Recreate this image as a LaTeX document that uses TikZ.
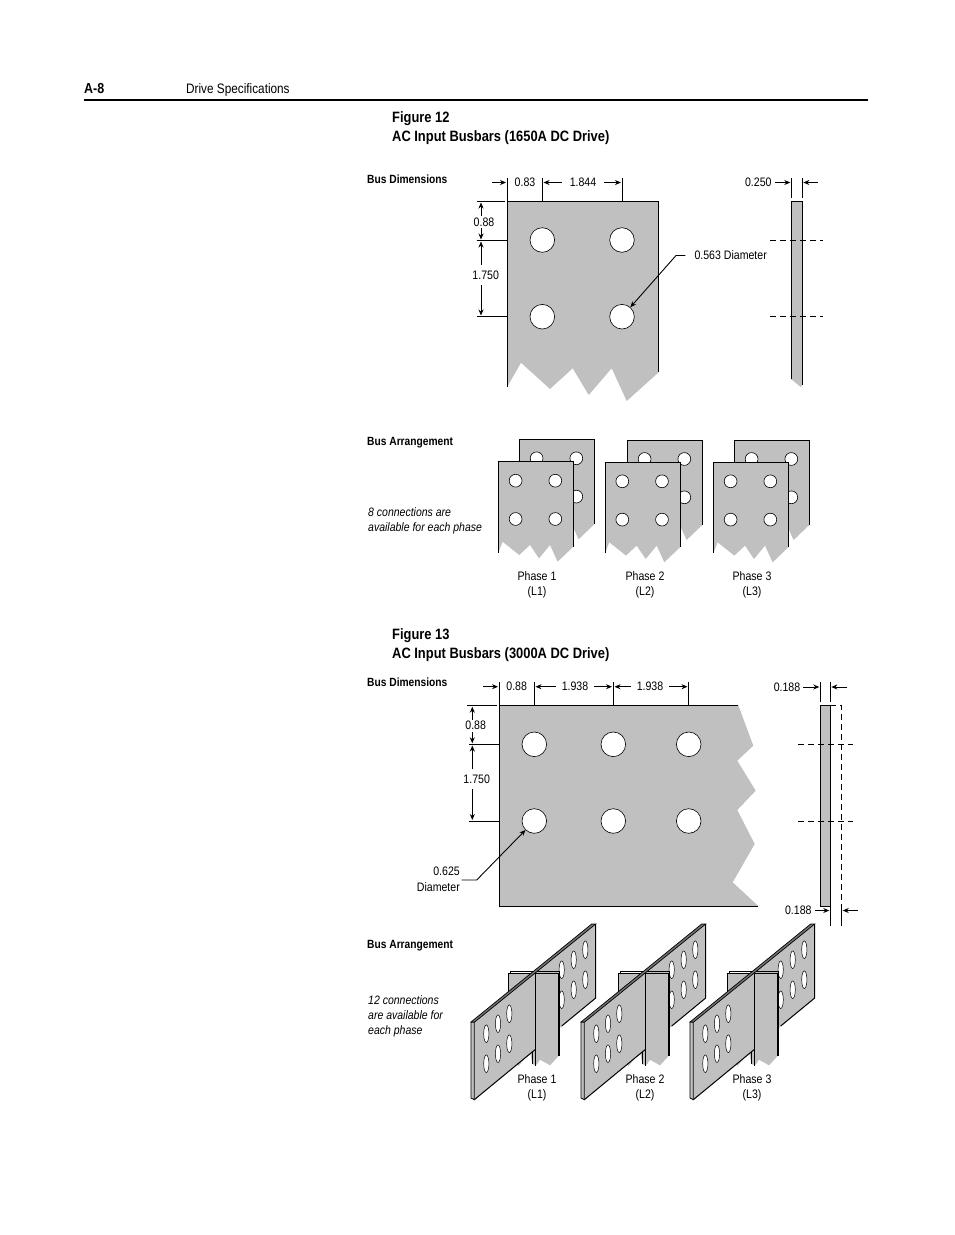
\documentclass[tikz,border=0pt]{standalone}
\usepackage{fontspec}
\setmainfont[FakeStretch=0.86]{Liberation Sans}
\usetikzlibrary{arrows.meta}
\definecolor{busgray}{HTML}{C0C0C0}
\tikzset{
  lbl/.style={inner sep=0pt, font=\fontsize{12.3}{14}\selectfont},
  note/.style={inner sep=0pt, anchor=west, yshift=-1pt, text height=9pt, text depth=3pt, font=\fontsize{12.2}{14}\selectfont\itshape},
  bighead/.style={inner sep=0pt, anchor=west, yshift=-1.7pt, text height=10pt, text depth=3pt, font=\fontsize{15}{17}\selectfont\bfseries},
  subhead/.style={inner sep=0pt, anchor=west, yshift=-1pt, text height=9pt, text depth=3pt, font=\fontsize{11.9}{14}\selectfont\bfseries},
  hole/.style={circle, draw=black, fill=white, line width=0.6pt, inner sep=0pt, minimum size=24.6pt},
  edge/.style={line width=1pt, black},
  ext/.style={line width=0.9pt, black},
  dim/.style={line width=0.9pt, black, -{Stealth[length=6pt,width=5pt]}},
  cut/.style={line width=0.9pt, black, dash pattern=on 6pt off 4pt}
}
\begin{document}
\begin{tikzpicture}[x=1pt,y=-1pt]
  \useasboundingbox (0,0) rectangle (954,1235);

  % page header
  \node[bighead, font=\fontsize{14.5}{16}\selectfont\bfseries] (pagenum) at (84,88) {A-8};
  \node[lbl, anchor=west, yshift=-1.7pt, text height=10pt, text depth=3pt, font=\fontsize{13.7}{15}\selectfont] (pagetitle) at (186,88) {Drive Specifications};
  \draw[line width=1.8pt] (84,100) -- (868,100);

  % figure 12
  \node[bighead] (fig12) at (392,117) {Figure 12};
  \node[bighead] (fig12title) at (392,136) {AC Input Busbars (1650A DC Drive)};
  \node[subhead] (dims12) at (367,179) {Bus Dimensions};

  \fill[busgray] (507.3,201) -- (658.7,201) -- (658.7,372.3) -- (626.7,401) -- (611.7,368.3) -- (588.7,395) -- (572.7,368.3) -- (550,389) -- (521,362.7) -- (507.3,386.7) -- cycle;
  \draw[edge] (507.3,386.7) -- (507.3,201) -- (658.7,201) -- (658.7,372.3);
  \node[hole] (h12a) at (542.3,240) {};
  \node[hole] (h12b) at (622,240) {};
  \node[hole] (h12c) at (542.3,316.7) {};
  \node[hole] (h12d) at (622,316.7) {};

  % top dimensions
  \draw[ext] (507.3,178) -- (507.3,201);
  \draw[ext] (542.3,178) -- (542.3,201);
  \draw[ext] (622,178) -- (622,201);
  \node[lbl] (d083) at (525,182.5) {0.83};
  \node[lbl] (d1844) at (583,182.5) {1.844};
  \draw[dim] (492.3,182.5) -- (506,182.5);
  \draw[dim] (d1844.west) ++(-8,0) -- (543.5,182.5);
  \draw[dim] (d1844.east) ++(8,0) -- (621,182.5);

  % left dimensions
  \draw[ext] (476.7,201) -- (505,201);
  \draw[ext] (476.7,240.3) -- (507.3,240.3);
  \draw[ext] (476.7,316.7) -- (507.3,316.7);
  \node[lbl] (d088) at (484,222) {0.88};
  \node[lbl] (d1750) at (485.7,275.5) {1.750};
  \draw[dim] (481,216) -- (481,202.5);
  \draw[dim] (481,228) -- (481,239.5);
  \draw[dim] (481,265) -- (481,241.5);
  \draw[dim] (481,285) -- (481,315.5);

  \node[lbl, anchor=west] (lead563) at (694.3,255.5) {0.563 Diameter};
  \draw[dim] (lead563.west) ++(-9,0) -- (676,255.5) -- (h12d);

  % side view
  \fill[busgray] (791.3,201) -- (802.3,201) -- (802.3,385) -- (800.7,387) -- (791.3,379.3) -- cycle;
  \draw[edge] (791.3,379.3) -- (791.3,201) -- (802.3,201) -- (802.3,385);
  \draw[ext] (791.3,178) -- (791.3,198);
  \draw[ext] (802.3,178) -- (802.3,198);
  \node[lbl] (d0250) at (758.3,182.5) {0.250};
  \draw[dim] (d0250.east) ++(3,0) -- (790.3,182.5);
  \draw[dim] (817.7,182.5) -- (803.3,182.5);
  \draw[cut] (770,240.3) -- (823.3,240.3);
  \draw[cut] (770,316.7) -- (823.3,316.7);

  % arrangement for figure 12
  \node[subhead] (arr12) at (367,441) {Bus Arrangement};
  \node[note] (conn8a) at (368,512) {8 connections are};
  \node[note] (conn8b) at (368,527) {available for each phase};

  \foreach \px/\py in {519.3/439.3, 498.3/461.7, 627.3/440, 605/462.3, 734.3/440, 713.3/462.3} {
    \begin{scope}[shift={(\px,\py)}]
      \fill[busgray] (0,0) -- (75,0) -- (75,85) -- (59.3,100) -- (51.7,83.3) -- (40.7,96.7) -- (31.7,83.3) -- (21,93.3) -- (4.3,80) -- (0,91) -- cycle;
      \draw[edge] (0,91) -- (0,0) -- (75,0) -- (75,85);
      \foreach \hx/\hy in {17.3/19, 57/19, 17.3/57.3, 57/57.3}
        \draw[fill=white, line width=0.6pt] (\hx,\hy) circle[radius=6.4];
    \end{scope}
  }

  \node[lbl] (ph1a) at (537,576) {Phase 1};
  \node[lbl] (ph1b) at (537,592.7) {(L1)};
  \node[lbl] (ph2a) at (645,576) {Phase 2};
  \node[lbl] (ph2b) at (645,592.7) {(L2)};
  \node[lbl] (ph3a) at (752,576) {Phase 3};
  \node[lbl] (ph3b) at (752,592.7) {(L3)};

  % figure 13
  \node[bighead] (fig13) at (392,634) {Figure 13};
  \node[bighead] (fig13title) at (392,653) {AC Input Busbars (3000A DC Drive)};
  \node[subhead] (dims13) at (367,682) {Bus Dimensions};

  \fill[busgray] (499.3,705.3) -- (738.3,705.3) -- (753.3,745.7) -- (737.3,760.7) -- (755.7,790.7) -- (737.3,810) -- (754.7,844) -- (732.7,882.3) -- (758.3,906) -- (499.3,906) -- cycle;
  \draw[edge] (738.3,705.3) -- (499.3,705.3) -- (499.3,906) -- (758.3,906);
  \node[hole] (h13a) at (534.3,744.3) {};
  \node[hole] (h13b) at (613.3,744.3) {};
  \node[hole] (h13c) at (688.7,744.3) {};
  \node[hole] (h13d) at (534.3,821) {};
  \node[hole] (h13e) at (613.3,821) {};
  \node[hole] (h13f) at (688.7,821) {};

  % top dimensions
  \draw[ext] (499.3,682) -- (499.3,705.3);
  \draw[ext] (534.3,682) -- (534.3,705.3);
  \draw[ext] (613.3,682) -- (613.3,705.3);
  \draw[ext] (688.7,682) -- (688.7,705.3);
  \node[lbl] (t088) at (516.7,686) {0.88};
  \node[lbl] (t1938a) at (575,686) {1.938};
  \node[lbl] (t1938b) at (650,686) {1.938};
  \draw[dim] (483.3,686.7) -- (498,686.7);
  \draw[dim] (t1938a.west) ++(-6,0.7) -- (535.5,686.7);
  \draw[dim] (t1938a.east) ++(6,0.7) -- (612,686.7);
  \draw[dim] (t1938b.west) ++(-6,0.7) -- (614.5,686.7);
  \draw[dim] (t1938b.east) ++(6,0.7) -- (687.5,686.7);

  % left dimensions
  \draw[ext] (467.3,705.3) -- (497,705.3);
  \draw[ext] (469.3,744.3) -- (499.3,744.3);
  \draw[ext] (469.3,821) -- (499.3,821);
  \node[lbl] (s088) at (475.7,725.7) {0.88};
  \node[lbl] (s1750) at (476.7,779) {1.750};
  \draw[dim] (472.3,720) -- (472.3,706.7);
  \draw[dim] (472.3,732) -- (472.3,743.3);
  \draw[dim] (472.3,769) -- (472.3,745.5);
  \draw[dim] (472.3,789) -- (472.3,820);

  \node[lbl, anchor=east] (lead625a) at (460,871.7) {0.625};
  \node[lbl, anchor=east] (lead625b) at (460,887) {Diameter};
  \draw[dim] (461.7,880) -- (476.7,880) -- (h13d);

  % side view
  \fill[busgray] (820.3,705.3) rectangle (830.3,906);
  \draw[edge] (820.3,906) -- (820.3,705.3) -- (830.3,705.3) -- (830.3,906) -- cycle;
  \draw[cut] (830.3,705.3) -- (841.7,705.3) -- (841.7,906);
  \draw[cut] (798.3,744.3) -- (853.3,744.3);
  \draw[cut] (798.3,821) -- (853.3,821);
  \draw[ext] (820.3,682) -- (820.3,702);
  \draw[ext] (830.3,682) -- (830.3,702);
  \node[lbl] (d0188a) at (787,687) {0.188};
  \draw[dim] (d0188a.east) ++(3,0) -- (819.3,687);
  \draw[dim] (846.7,687) -- (831.3,687);
  \draw[ext] (830.3,906) -- (830.3,926);
  \draw[ext] (841.7,906) -- (841.7,926);
  \node[lbl] (d0188b) at (798.3,910.5) {0.188};
  \draw[dim] (d0188b.east) ++(3,0) -- (829.3,910.5);
  \draw[dim] (858,910.5) -- (842.7,910.5);

  % arrangement for figure 13
  \node[subhead] (arr13) at (367,944) {Bus Arrangement};
  \node[note] (conn12a) at (368,1000) {12 connections};
  \node[note] (conn12b) at (368,1015) {are available for};
  \node[note] (conn12c) at (368,1030) {each phase};

  \foreach \dx in {0,110,219} {
    \begin{scope}[shift={(\dx,0)}]
      % plate running to the back
      \fill[busgray] (535,973) -- (595.7,924) -- (595.7,998) -- (555,1032) -- cycle;
      \draw[edge] (595.7,924) -- (595.7,998) -- (561.7,1026);
      \foreach \hx/\hy in {561.7/969.7, 573.7/959.7, 585.3/949.7, 561.7/999.7, 573.7/989.7, 585.3/979.7}
        \draw[fill=white, line width=0.5pt] (\hx,\hy) ellipse[x radius=2.6, y radius=8.8];
      % plate standing across
      \fill[busgray] (508.3,973) -- (558.3,973) -- (558.3,1056.3) -- (550,1065.3) -- (540,1059.7) -- (536.7,1064.7) -- (532.7,1064.7) -- (530,1052) -- (518.3,1066.3) -- (508.3,1040) -- cycle;
      \draw[line width=0.7pt] (510.3,973) -- (510.3,971) -- (559.6,971) -- (559.6,1056.3);
      \draw[line width=0.8pt] (508.3,1020) -- (508.3,973) -- (558,973) -- (558,1056.3);
      \draw[line width=0.9pt] (532.7,1050) -- (532.7,1064);
      \draw[line width=0.9pt] (535,1045) -- (535,1066);
      % front plate
      \fill[busgray] (474.3,1022.3) -- (535,972.3) -- (535,1049.7) -- (474.3,1099.7) -- cycle;
      \draw[edge] (535,1049.7) -- (474.3,1099.7);
      \draw[edge] (535,972.3) -- (535,1049.7);
      \foreach \hx/\hy in {486.3/1033.7, 498/1023.7, 509.3/1013.7, 486.3/1063.7, 498/1053.7, 509.3/1043.7}
        \draw[fill=white, line width=0.5pt] (\hx,\hy) ellipse[x radius=2.6, y radius=8.8];
      % edge of the long plate
      \filldraw[fill=busgray!60!black, line width=0.7pt] (471,1022) -- (591.7,924) -- (595.7,924) -- (474.3,1022.3) -- cycle;
      \filldraw[fill=busgray, line width=0.8pt] (471,1022) -- (474.3,1022.3) -- (474.3,1099.7) -- (471,1098) -- cycle;
    \end{scope}
  }

  \node[lbl] (ph1c) at (537,1079) {Phase 1};
  \node[lbl] (ph1d) at (537,1095.7) {(L1)};
  \node[lbl] (ph2c) at (645,1079) {Phase 2};
  \node[lbl] (ph2d) at (645,1095.7) {(L2)};
  \node[lbl] (ph3c) at (752,1079) {Phase 3};
  \node[lbl] (ph3d) at (752,1095.7) {(L3)};
\end{tikzpicture}
\end{document}
